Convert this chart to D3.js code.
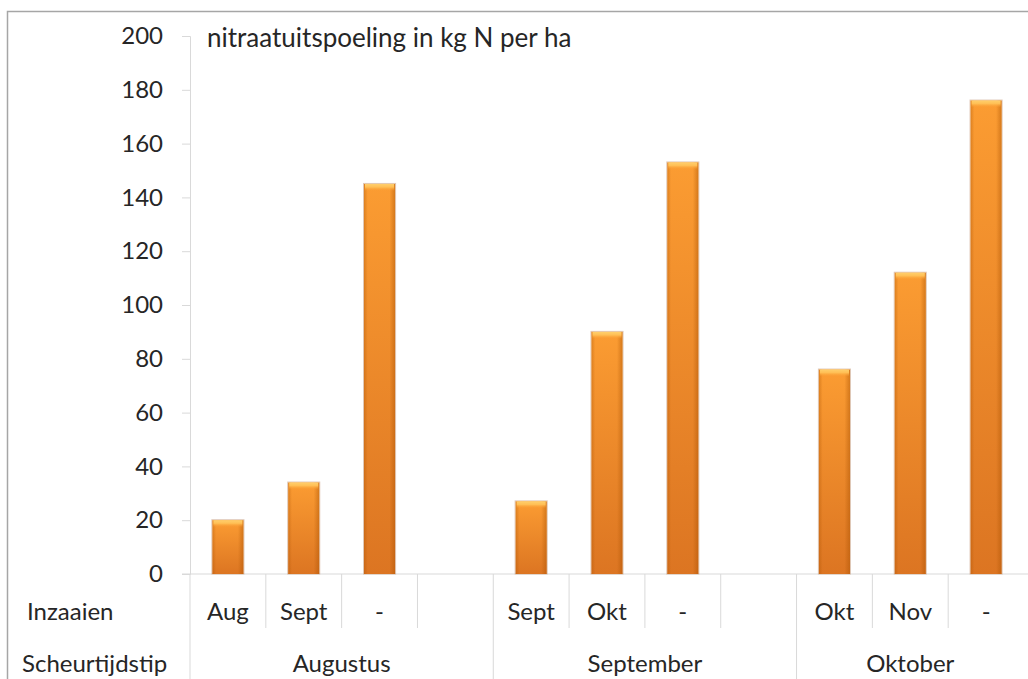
<!DOCTYPE html>
<html>
<head>
<meta charset="utf-8">
<script src="https://cdn.jsdelivr.net/npm/d3@7"></script>
<style>
  html, body { margin: 0; padding: 0; background: #fff; }
  svg { display: block; }
</style>
</head>
<body>
<div id="chart"></div>
<script>
// Data
const scheurtijdstip = ['Augustus', 'September', 'Oktober'];
const groupSlots = [4, 4, 3];
const inzaaien = ['Aug', 'Sept', '-', '', 'Sept', 'Okt', '-', '', 'Okt', 'Nov', '-'];
const uitspoeling = [20, 34, 145, null, 27, 90, 153, null, 76, 112, 176];
const yTicks = [0, 20, 40, 60, 80, 100, 120, 140, 160, 180, 200];
const yTitle = 'nitraatuitspoeling in kg N per ha';

const W = 1028, H = 679;
const font = 'Lato, "Open Sans", sans-serif';
const textColor = '#262626';
const lineColor = '#d9d9d9';

const svg = d3.select('#chart').append('svg')
    .attr('width', W).attr('height', H);

// gradients for the bevelled bars
const defs = svg.append('defs');
const body = defs.append('linearGradient').attr('id', 'barBody')
    .attr('x1', 0).attr('y1', 0).attr('x2', 0).attr('y2', 1);
body.append('stop').attr('offset', '0%').attr('stop-color', '#fb9c32');
body.append('stop').attr('offset', '100%').attr('stop-color', '#dc7522');

const edge = defs.append('linearGradient').attr('id', 'barEdge')
    .attr('x1', 0).attr('y1', 0).attr('x2', 1).attr('y2', 0);
edge.append('stop').attr('offset', '0%').attr('stop-color', '#a85000').attr('stop-opacity', 0.35);
edge.append('stop').attr('offset', '12%').attr('stop-color', '#a85000').attr('stop-opacity', 0);
edge.append('stop').attr('offset', '82%').attr('stop-color', '#a85000').attr('stop-opacity', 0);
edge.append('stop').attr('offset', '100%').attr('stop-color', '#a85000').attr('stop-opacity', 0.45);

const hi = defs.append('linearGradient').attr('id', 'barTop')
    .attr('x1', 0).attr('y1', 0).attr('x2', 0).attr('y2', 1);
hi.append('stop').attr('offset', '0%').attr('stop-color', '#ffcf6c');
hi.append('stop').attr('offset', '45%').attr('stop-color', '#ffbf55');
hi.append('stop').attr('offset', '100%').attr('stop-color', '#fb9c32').attr('stop-opacity', 0);

// outer frame (cropped at the right, as in the reference)
svg.append('rect')
    .attr('x', 7.5).attr('y', 11.5)
    .attr('width', W + 20).attr('height', H + 20)
    .attr('fill', 'none')
    .attr('stroke', '#a6a6a6')
    .attr('stroke-width', 1.5);

// scales
const y = d3.scaleLinear().domain([0, 200]).range([574, 36]);
const x = d3.scaleBand()
    .domain(d3.range(inzaaien.length))
    .range([190, 1024])
    .padding(0);
const barW = x.bandwidth() * 0.41;

// y axis
const yAxisG = svg.append('g')
    .attr('transform', 'translate(190,0)')
    .call(d3.axisLeft(y).tickValues(yTicks).tickSize(8).tickPadding(19));
yAxisG.select('.domain').attr('stroke', lineColor);
yAxisG.selectAll('.tick line').attr('stroke', lineColor);
yAxisG.selectAll('.tick text')
    .attr('fill', textColor)
    .attr('font-family', font)
    .attr('font-size', '24px');

// axis title inside the plot
svg.append('text')
    .attr('x', 207).attr('y', 47)
    .attr('fill', textColor)
    .attr('font-family', font)
    .attr('font-size', '26px')
    .text(yTitle);

// horizontal base line
svg.append('line')
    .attr('x1', 182).attr('x2', W)
    .attr('y1', y(0)).attr('y2', y(0))
    .attr('stroke', lineColor);

// dividers between categories
const groupStarts = [];
let acc = 0;
groupSlots.forEach(n => { groupStarts.push(acc); acc += n; });

const inner = d3.range(1, inzaaien.length).filter(i => !groupStarts.includes(i));
svg.selectAll('.div-inner')
    .data(inner)
    .join('line')
    .attr('class', 'div-inner')
    .attr('x1', i => x(i)).attr('x2', i => x(i))
    .attr('y1', y(0)).attr('y2', 628)
    .attr('stroke', lineColor);

svg.selectAll('.div-group')
    .data(groupStarts)
    .join('line')
    .attr('class', 'div-group')
    .attr('x1', i => x(i)).attr('x2', i => x(i))
    .attr('y1', y(0)).attr('y2', H)
    .attr('stroke', lineColor);

// bars
const barData = uitspoeling.map((v, i) => ({ i, v })).filter(d => d.v != null);
const bars = svg.selectAll('.bar')
    .data(barData)
    .join('g')
    .attr('class', 'bar')
    .attr('transform', d => `translate(${x(d.i) + x.bandwidth() / 2 - barW / 2},${y(d.v)})`);

bars.append('rect')
    .attr('x', -0.5).attr('y', -0.5)
    .attr('width', barW + 1)
    .attr('height', d => y(0) - y(d.v) + 0.5)
    .attr('fill', 'none')
    .attr('stroke', '#c9a487')
    .attr('stroke-opacity', 0.6);
bars.append('rect')
    .attr('width', barW)
    .attr('height', d => y(0) - y(d.v))
    .attr('fill', 'url(#barBody)');
bars.append('rect')
    .attr('width', barW)
    .attr('height', d => y(0) - y(d.v))
    .attr('fill', 'url(#barEdge)');
bars.append('rect')
    .attr('x', 1).attr('width', barW - 2)
    .attr('height', 7)
    .attr('fill', 'url(#barTop)');

// category labels
const labelG = svg.append('g')
    .attr('font-family', font)
    .attr('font-size', '24px')
    .attr('fill', textColor);

labelG.selectAll('.inz')
    .data(inzaaien.map((t, i) => ({ t, i })))
    .join('text')
    .attr('class', 'inz')
    .attr('x', d => x(d.i) + x.bandwidth() / 2)
    .attr('y', 620)
    .attr('text-anchor', 'middle')
    .text(d => d.t);

labelG.selectAll('.grp')
    .data(scheurtijdstip.map((t, k) => ({ t, k })))
    .join('text')
    .attr('class', 'grp')
    .attr('x', d => {
        const a = x(groupStarts[d.k]);
        const b = x(groupStarts[d.k] + groupSlots[d.k] - 1) + x.bandwidth();
        return (a + b) / 2;
    })
    .attr('y', 672)
    .attr('text-anchor', 'middle')
    .text(d => d.t);

labelG.append('text').attr('x', 27).attr('y', 620).text('Inzaaien');
labelG.append('text').attr('x', 22).attr('y', 672).text('Scheurtijdstip');
</script>
</body>
</html>
